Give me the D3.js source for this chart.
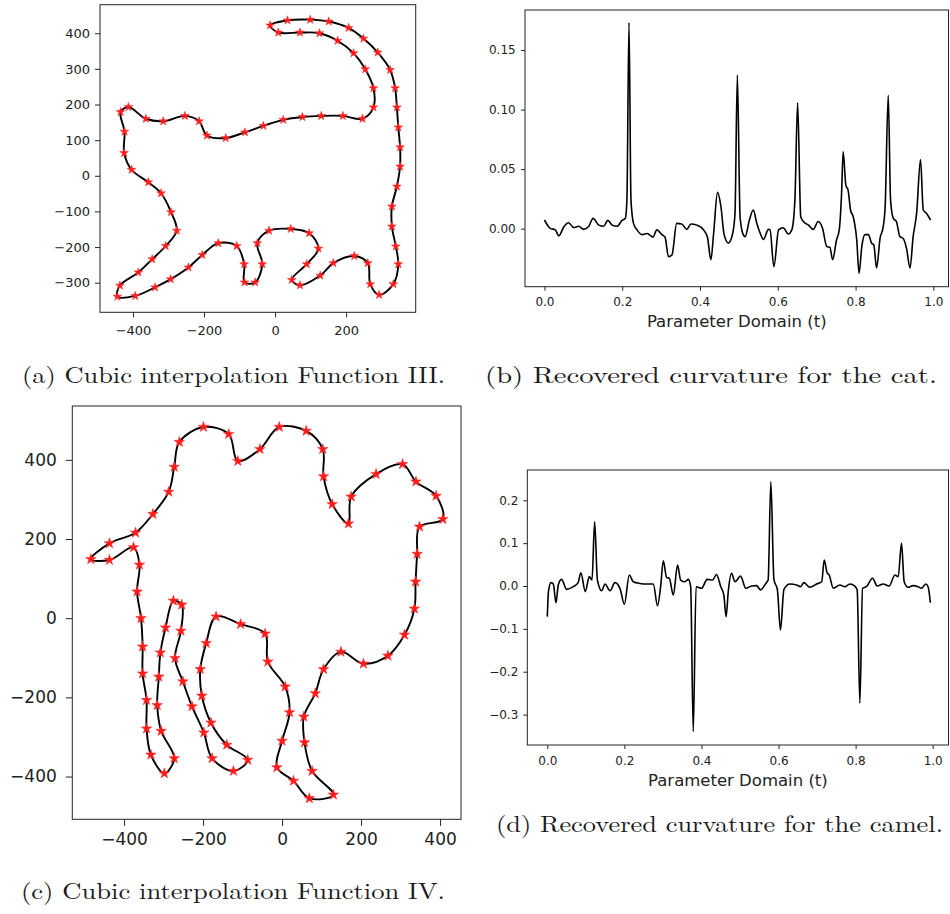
<!DOCTYPE html>
<html lang="en">
<head>
<meta charset="UTF-8">
<title>Cubic interpolation and curvature</title>
<script src="https://d3js.org/d3.v7.min.js"></script>
<style>
    body { margin: 0; background: #fff; }
    .tick text { fill: #222; font-family: "DejaVu Sans", sans-serif; }
    .tick line { stroke: #222; }
    .caption { font-family: "Latin Modern Roman", "CMU Serif", "Liberation Serif", serif; fill: #1a1a1a; }
    .xlabel { font-family: "DejaVu Sans", sans-serif; fill: #222; }
</style>
</head>
<body>
<div id="chart"></div>
<script>
// (a) cat outline, interpolation nodes in order round the contour
const catX = [-14,35,99,151,207,249,289,324,338,343,347,352,352,343,329,329,340,347,333,293,
    268,261,223,164,127,70,47,89,122,96,44,-17,-50,-36,-56,-86,-87,-108,-160,-205,
    -244,-294,-338,-394,-444,-437,-385,-346,-308,-277,-293,-321,-357,-404,-425,-424,-435,-413,-364,-315,
    -254,-214,-192,-139,-85,-33,23,77,130,191,246,277,277,254,221,176,125,70,9];
const catY = [422,436,438,433,415,385,346,297,246,192,136,80,26,-30,-86,-142,-198,-248,-304,-334,
    -304,-245,-225,-245,-280,-307,-292,-248,-204,-161,-149,-154,-189,-248,-299,-299,-248,-197,-189,-222,
    -257,-290,-313,-337,-339,-308,-271,-234,-197,-154,-102,-49,-18,17,64,124,179,193,160,153,
    168,153,113,106,122,140,157,165,168,168,160,192,246,299,344,379,400,402,402];

// (c) camel outline
const camelX = [-484,-437,-371,-327,-287,-273,-260,-199,-135,-112,-56,-7,61,103,105,127,168,175,238,305,
    339,390,407,348,342,338,335,310,268,206,149,105,84,55,57,76,130,69,29,-13,
    0,19,8,-36,-43,-105,-167,-192,-207,-203,-180,-140,-87,-123,-177,-198,-228,-251,-271,-256,
    -254,-275,-295,-308,-312,-316,-306,-273,-298,-332,-343,-343,-353,-353,-357,-367,-361,-376,-437];
const camelY = [149,189,216,263,319,382,445,483,465,397,427,483,473,427,358,288,239,307,364,389,
    345,309,250,231,162,92,24,-42,-95,-115,-85,-129,-190,-249,-314,-386,-446,-455,-411,-377,
    -310,-238,-173,-110,-39,-15,4,-63,-129,-196,-264,-320,-358,-386,-354,-289,-223,-160,-101,-32,
    34,44,-24,-87,-148,-220,-285,-354,-392,-345,-279,-207,-140,-72,0,67,135,179,147];

// (b) recovered curvature, cat
const catT = [0,0.015,0.028,0.037,0.05,0.062,0.075,0.088,0.101,0.114,
    0.125,0.14,0.152,0.163,0.174,0.187,0.199,0.208,0.212,0.2174,
    0.2225,0.229,0.238,0.251,0.264,0.272,0.279,0.289,0.302,0.31,
    0.319,0.328,0.34,0.353,0.366,0.377,0.392,0.409,0.419,0.428,
    0.435,0.445,0.454,0.462,0.473,0.484,0.49,0.496,0.503,0.51,
    0.516,0.527,0.537,0.546,0.555,0.563,0.576,0.58,0.59,0.602,
    0.614,0.627,0.636,0.644,0.651,0.659,0.666,0.679,0.691,0.704,
    0.715,0.726,0.734,0.741,0.751,0.758,0.764,0.768,0.775,0.781,
    0.787,0.794,0.803,0.809,0.816,0.824,0.833,0.841,0.847,0.854,
    0.863,0.871,0.876,0.884,0.89,0.897,0.905,0.914,0.922,0.931,
    0.94,0.948,0.957,0.967,0.974,0.982,0.993];
const catK = [0.0073,0.0003,-0.001,-0.006,0.0017,0.005,0.001,0.002,-0.0006,0.002,
    0.0087,0.003,0.002,0.007,0.003,0.002,0.0067,0.0087,0.024,0.173,
    0.024,0.0045,-0.001,-0.005,-0.004,-0.0056,-0.007,-0.001,-0.005,-0.007,
    -0.0235,-0.022,0.0045,0.004,-0.0006,0.004,0.003,-0.001,-0.007,-0.026,
    -0.004,0.0305,0.018,-0.005,-0.012,-0.004,0.013,0.129,0.01,-0.004,
    -0.0067,0.0073,0.0157,0.0045,-0.004,-0.009,-0.0006,-0.001,-0.032,-0.001,
    0.0008,-0.0045,-0.001,0.024,0.1057,0.01,0.006,0.003,-0.0006,0.006,
    0.0003,-0.015,-0.0157,-0.026,-0.0095,-0.001,0.0296,0.0646,0.0366,0.032,
    0.0157,0.01,-0.0095,-0.0375,-0.015,-0.005,-0.005,-0.012,-0.0137,-0.033,
    -0.008,0.0017,0.018,0.112,0.024,0.0087,0.006,-0.0067,-0.008,-0.0165,
    -0.033,-0.0067,0.013,0.058,0.0157,0.013,0.0073];

// (d) recovered curvature, camel
const camelT = [0,0.003,0.0095,0.0156,0.0225,0.0285,0.037,0.05,0.0675,0.08,
    0.087,0.0986,0.109,0.116,0.1228,0.13,0.141,0.15,0.1626,0.1755,
    0.1885,0.2,0.2127,0.223,0.24,0.2577,0.275,0.286,0.294,0.301,
    0.3096,0.3165,0.327,0.338,0.346,0.357,0.366,0.372,0.3787,0.386,
    0.4,0.415,0.429,0.439,0.45,0.458,0.464,0.4695,0.478,0.487,
    0.5015,0.515,0.53,0.543,0.553,0.567,0.573,0.58,0.588,0.597,
    0.605,0.614,0.6295,0.647,0.657,0.666,0.681,0.699,0.712,0.7185,
    0.726,0.7315,0.742,0.759,0.772,0.785,0.798,0.804,0.811,0.818,
    0.828,0.844,0.856,0.8716,0.887,0.902,0.9105,0.919,0.926,0.9365,
    0.949,0.962,0.971,0.982,0.988,0.994];
const camelK = [-0.0715,-0.013,0.008,0.0047,-0.039,0.0023,0.0155,-0.0078,-0.0016,0.0078,
    0.031,-0.013,0.0218,0.014,0.15,0.014,-0.011,0.0047,-0.011,0.0078,
    -0.0054,-0.0427,0.0256,0.01,0.006,0.0047,0.0047,-0.046,-0.0016,0.059,
    0.02,0.018,-0.021,0.049,0.014,0.01,0.0155,-0.0016,-0.3395,-0.0016,
    -0.0054,0.0155,0.014,0.027,-0.0016,-0.021,-0.0715,-0.013,0.0295,0.01,
    0.023,-0.0054,0,0.0008,-0.009,0.006,0.014,0.243,0.0155,-0.009,
    -0.1025,-0.0078,0.0047,0.0023,-0.0016,0.0078,-0.003,0.0047,0.01,0.0606,
    0.031,0.0256,-0.0054,0.0023,-0.0016,0.0047,0,-0.009,-0.2735,-0.0054,
    -0.0016,0.018,0,0.0047,0,0.0256,0.0218,0.0995,0.01,-0.003,
    0.0008,-0.0016,-0.0054,0.0047,-0.0016,-0.039];

// tick values
const catXTicks = [-400, -200, 0, 200];
const catYTicks = [-300, -200, -100, 0, 100, 200, 300, 400];
const camelXTicks = [-400, -200, 0, 200, 400];
const camelYTicks = [-400, -200, 0, 200, 400];
const paramTicks = [0, 0.2, 0.4, 0.6, 0.8, 1.0];
const catKTicks = [0, 0.05, 0.10, 0.15];
const camelKTicks = [-0.3, -0.2, -0.1, 0, 0.1, 0.2];

const xLabel = "Parameter Domain (t)";
const captions = [
    "(a) Cubic interpolation Function III.",
    "(b) Recovered curvature for the cat.",
    "(c) Cubic interpolation Function IV.",
    "(d) Recovered curvature for the camel."
];

const svg = d3.select("#chart")
    .append("svg")
    .attr("width", 950)
    .attr("height", 914);

svg.append("rect").attr("width", 950).attr("height", 914).attr("fill", "#fff");

// frame + both axes for one panel; p holds the box and the tick styling
function draw_axes(p, x, y) {
    const g = svg.append("g");

    g.append("g")
        .attr("transform", `translate(0,${p.bottom})`)
        .style("font-size", p.font + "px")
        .call(d3.axisBottom(x).tickValues(p.xTicks).tickFormat(p.xFmt)
            .tickSize(p.tick).tickPadding(p.xPad))
        .call(a => a.select(".domain").remove());

    g.append("g")
        .attr("transform", `translate(${p.left},0)`)
        .style("font-size", p.font + "px")
        .call(d3.axisLeft(y).tickValues(p.yTicks).tickFormat(p.yFmt)
            .tickSize(p.tick).tickPadding(p.yPad))
        .call(a => a.select(".domain").remove());

    g.selectAll(".tick text").attr("font-family", null);

    g.append("rect")
        .attr("x", p.left)
        .attr("y", p.top)
        .attr("width", p.frameRight - p.left)
        .attr("height", p.bottom - p.top)
        .attr("fill", "none")
        .attr("stroke", "#222")
        .attr("stroke-width", 1);
}

function draw_outline(p, xs, ys, starSize) {
    const x = d3.scaleLinear().domain(p.xLim).range([p.left, p.right]);
    const y = d3.scaleLinear().domain(p.yLim).range([p.bottom, p.top]);
    const pts = xs.map((v, i) => [v, ys[i]]);

    draw_axes(p, x, y);

    svg.append("path")
        .datum(pts)
        .attr("fill", "none")
        .attr("stroke", "#000")
        .attr("stroke-width", 1.9)
        .attr("d", d3.line()
            .x(d => x(d[0]))
            .y(d => y(d[1]))
            .curve(d3.curveCatmullRomClosed.alpha(0.5)));

    svg.append("g")
        .selectAll("path")
        .data(pts)
        .join("path")
        .attr("transform", d => `translate(${x(d[0])},${y(d[1])})`)
        .attr("d", d3.symbol(d3.symbolStar, starSize))
        .attr("fill", "#ff1a1a")
        .attr("stroke", "#ff3030")
        .attr("stroke-width", 0.6);
}

function draw_curvature(p, ts, ks) {
    const x = d3.scaleLinear().domain(p.xLim).range([p.left, p.right]);
    const y = d3.scaleLinear().domain(p.yLim).range([p.bottom, p.top]);

    draw_axes(p, x, y);

    svg.append("path")
        .datum(ts.map((t, i) => [t, ks[i]]))
        .attr("fill", "none")
        .attr("stroke", "#000")
        .attr("stroke-width", 1.6)
        .attr("stroke-linejoin", "round")
        .attr("d", d3.line()
            .x(d => x(d[0]))
            .y(d => y(d[1]))
            .curve(d3.curveMonotoneX));

    svg.append("text")
        .attr("class", "xlabel")
        .attr("x", (p.left + p.frameRight) / 2)
        .attr("y", p.labelY)
        .attr("text-anchor", "middle")
        .attr("font-size", "16.5px")
        .text(xLabel);
}

const intFmt = d3.format("d");

// (a)
draw_outline({
    left: 100, right: 415.7, frameRight: 415.7, top: 4.7, bottom: 312.3,
    xLim: [-493, 396], yLim: [-383, 480],
    xTicks: catXTicks, yTicks: catYTicks, xFmt: intFmt, yFmt: intFmt,
    font: 13, tick: 5, xPad: 8, yPad: 5
}, catX, catY, 23);

// (b)
draw_curvature({
    left: 525, right: 952.8, frameRight: 948.5, top: 10, bottom: 286.7,
    xLim: [-0.05, 1.05], yLim: [-0.0487, 0.1836],
    xTicks: paramTicks, yTicks: catKTicks, xFmt: d3.format(".1f"), yFmt: d3.format(".2f"),
    font: 12, tick: 4, xPad: 7, yPad: 5.3, labelY: 327
}, catT, catK);

// (c)
draw_outline({
    left: 72.3, right: 461, frameRight: 461, top: 406, bottom: 819.3,
    xLim: [-531, 453], yLim: [-508, 536],
    xTicks: camelXTicks, yTicks: camelYTicks, xFmt: intFmt, yFmt: intFmt,
    font: 17, tick: 6.5, xPad: 7, yPad: 9
}, camelX, camelY, 34);

// (d)
draw_curvature({
    left: 527.3, right: 951.2, frameRight: 948.5, top: 470, bottom: 745,
    xLim: [-0.0519, 1.048], yLim: [-0.371, 0.2707],
    xTicks: paramTicks, yTicks: camelKTicks, xFmt: d3.format(".1f"), yFmt: d3.format(".1f"),
    font: 12, tick: 4, xPad: 7.5, yPad: 5, labelY: 786
}, camelT, camelK);

// sub-figure captions
const capPos = [[22, 383, 423], [485, 383, 452], [21, 899, 424], [496, 832, 447]];
captions.forEach((c, i) => {
    svg.append("text")
        .attr("class", "caption")
        .attr("x", capPos[i][0])
        .attr("y", capPos[i][1])
        .attr("font-size", "23px")
        .attr("textLength", capPos[i][2])
        .attr("lengthAdjust", "spacingAndGlyphs")
        .text(c);
});
</script>
</body>
</html>
